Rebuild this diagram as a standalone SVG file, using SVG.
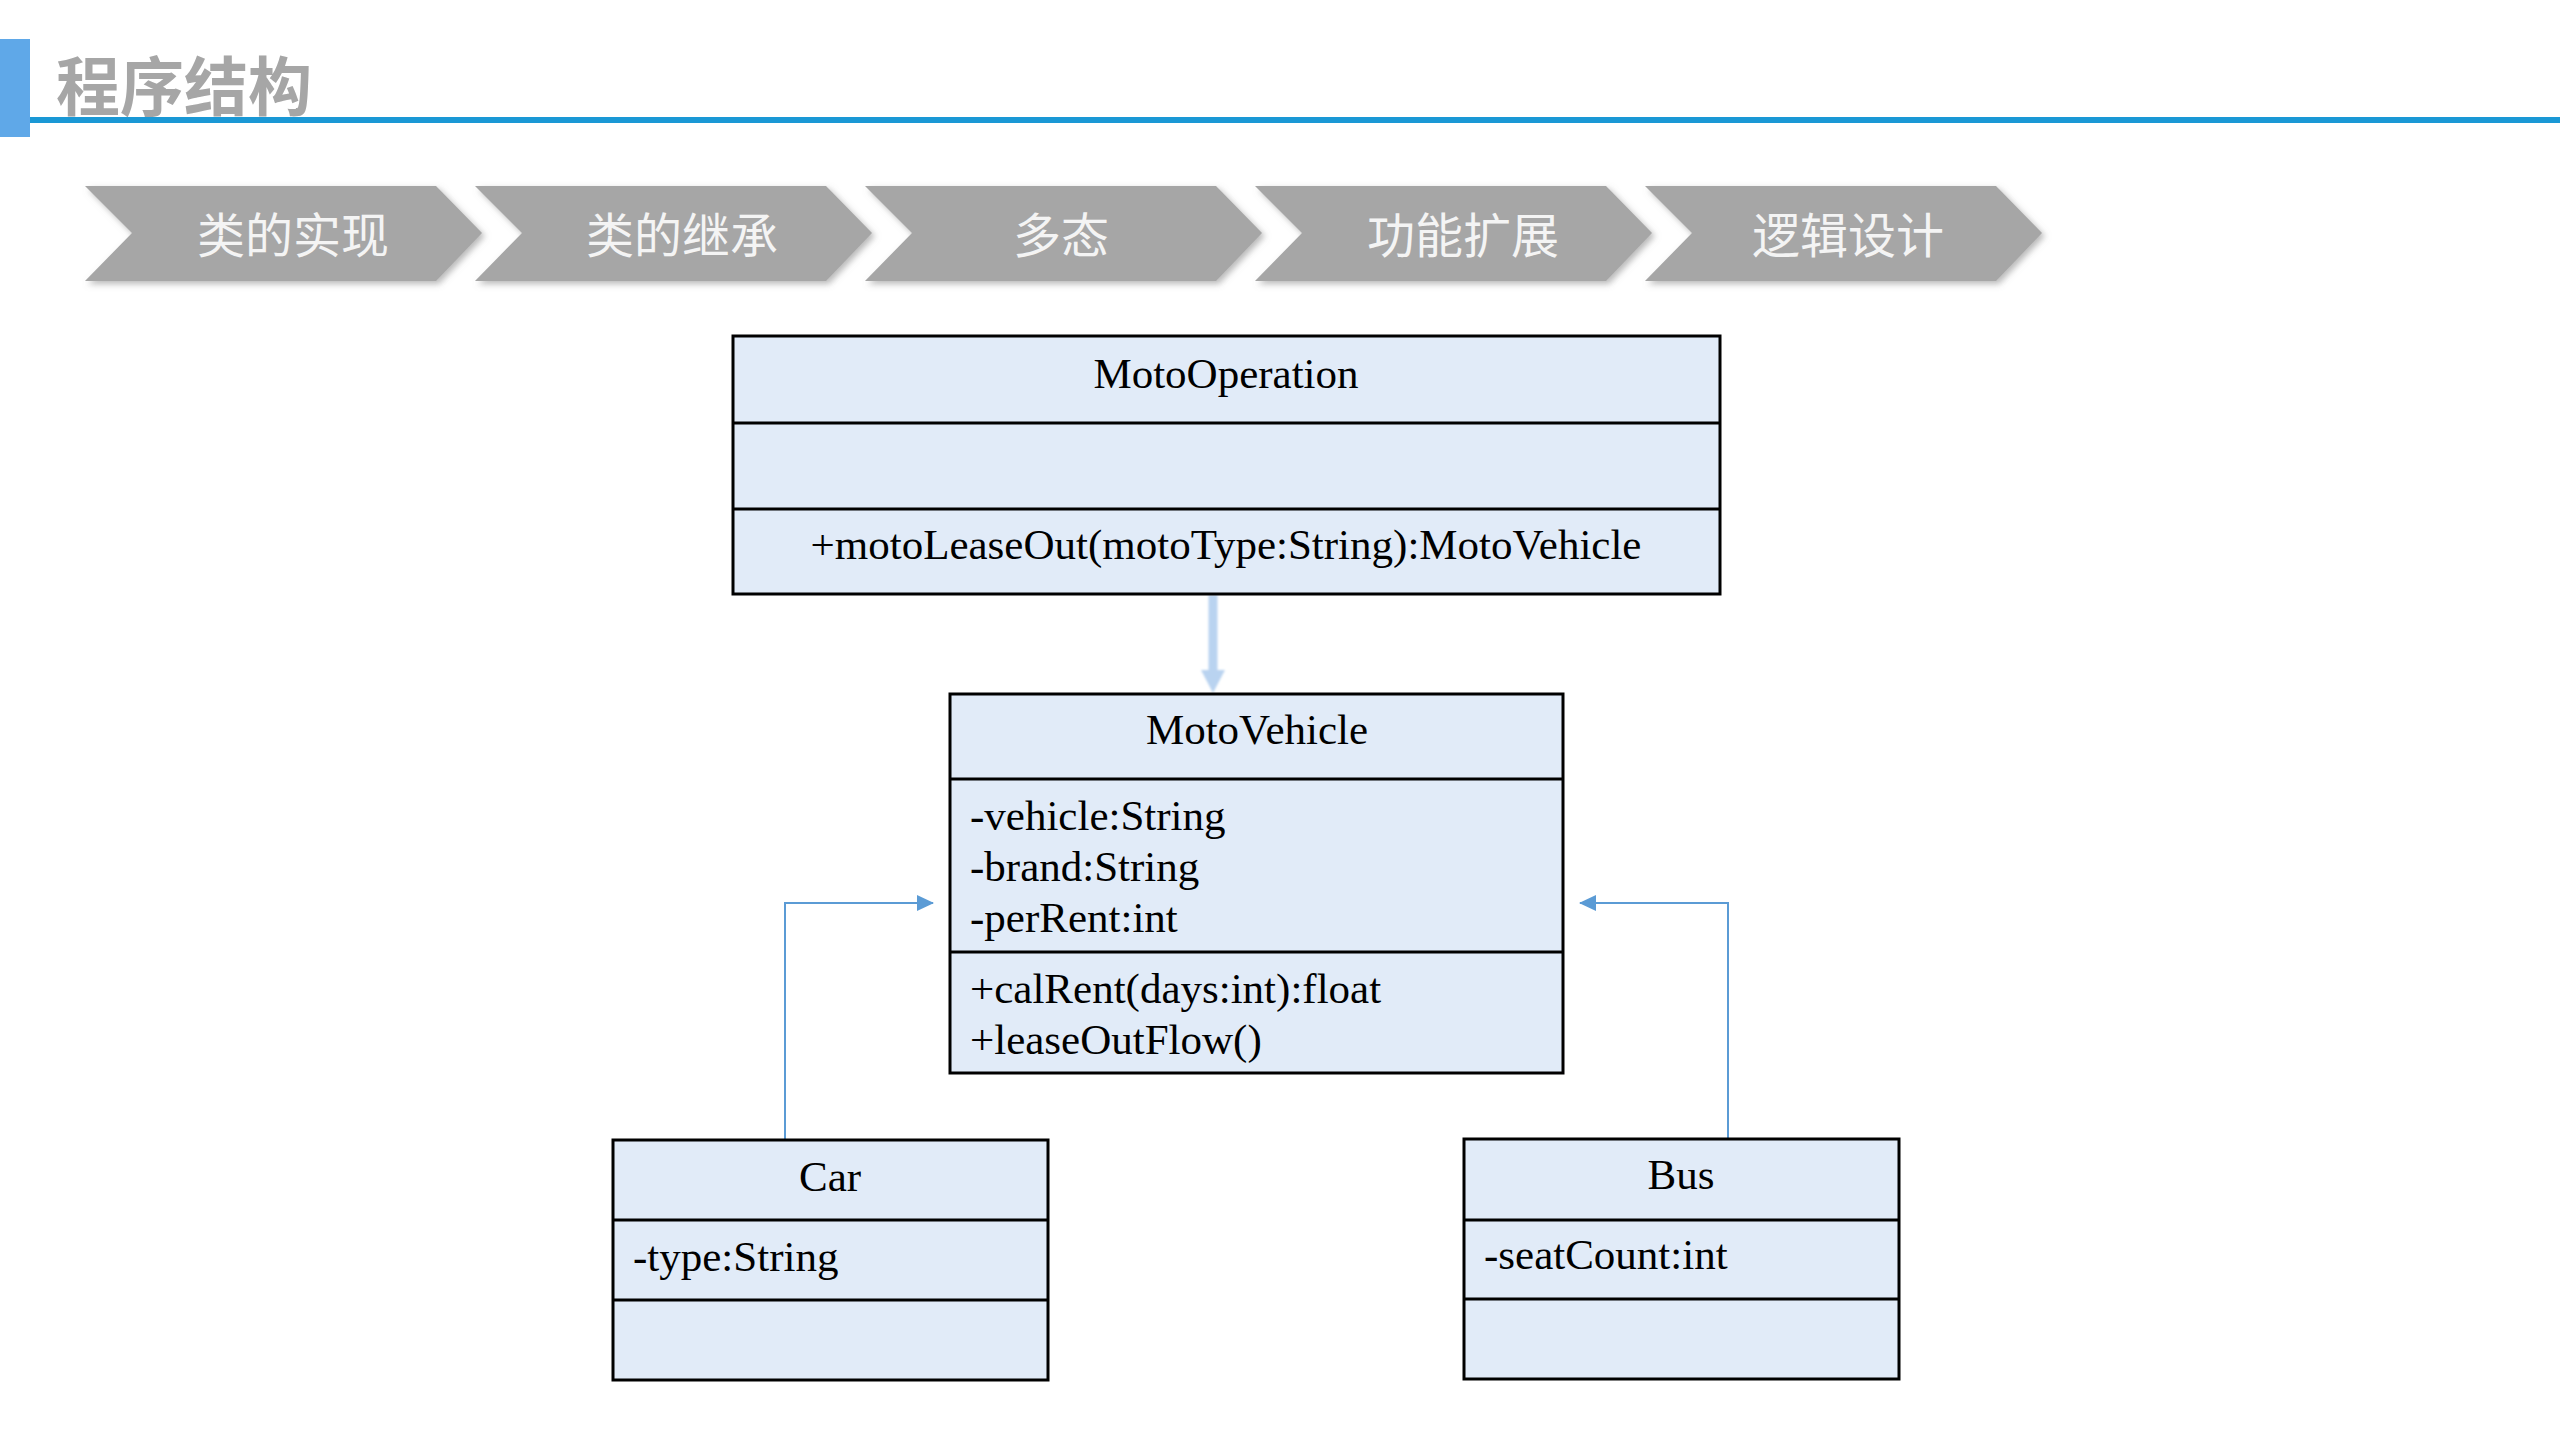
<svg xmlns="http://www.w3.org/2000/svg" width="2560" height="1440" viewBox="0 0 2560 1440">
<defs>
<filter id="sh" x="-10%" y="-20%" width="130%" height="150%">
<feDropShadow dx="3" dy="3" stdDeviation="3" flood-color="#808080" flood-opacity="0.55"/>
</filter>
<filter id="glow" x="-50%" y="-10%" width="200%" height="120%">
<feGaussianBlur stdDeviation="0.8"/>
</filter>
<marker id="ah" markerWidth="17" markerHeight="16" refX="16" refY="8" orient="auto" markerUnits="userSpaceOnUse">
<path d="M0,0 L17,8 L0,16 Z" fill="#5b9bd5"/>
</marker>
</defs>
<style>
.chev{fill:#a6a6a6;filter:url(#sh)}
.ct{font-family:"Noto Sans CJK SC","Noto Sans",sans-serif;font-size:48px;fill:#f4f4f4;text-anchor:middle}
.box{fill:#e1ebf8;stroke:#000;stroke-width:3}
.dv{stroke:#000;stroke-width:3}
.t{font-family:"Liberation Serif","Times New Roman",serif;font-size:43px;fill:#000}
.c{text-anchor:middle}
.conn{fill:none;stroke:#5b9bd5;stroke-width:2}
</style>
<rect width="2560" height="1440" fill="#fff"/>
<g id="header">
<rect x="0" y="39" width="30" height="98" fill="#5fa8e8"/>
<rect x="30" y="117" width="2530" height="6" fill="#1a98d5"/>
<text x="56" y="110" font-family="'Noto Sans CJK SC',sans-serif" font-size="64" font-weight="bold" fill="#a6a6a6">程序结构</text>
</g>
<g id="steps">
<g id="step1"><polygon class="chev" points="85,186 436,186 482,233 436,281 85,281 132,233"/><text class="ct" x="293" y="253">类的实现</text></g>
<g id="step2"><polygon class="chev" points="475,186 826,186 872,233 826,281 475,281 522,233"/><text class="ct" x="682" y="253">类的继承</text></g>
<g id="step3"><polygon class="chev" points="865,186 1216,186 1262,233 1216,281 865,281 912,233"/><text class="ct" x="1061" y="253">多态</text></g>
<g id="step4"><polygon class="chev" points="1255,186 1606,186 1652,233 1606,281 1255,281 1302,233"/><text class="ct" x="1463" y="253">功能扩展</text></g>
<g id="step5"><polygon class="chev" points="1645,186 1996,186 2042,233 1996,281 1645,281 1692,233"/><text class="ct" x="1848" y="253">逻辑设计</text></g>
</g>
<g id="connectors">
<g filter="url(#glow)">
<line x1="1213" y1="595" x2="1213" y2="672" stroke="#b9d3f0" stroke-width="9"/>
<polygon points="1201,670 1225,670 1213,693" fill="#b9d3f0"/>
</g>
<path class="conn" d="M785,1140 V903 H933" marker-end="url(#ah)"/>
<path class="conn" d="M1728,1139 V903 H1580" marker-end="url(#ah)"/>
</g>
<g id="MotoOperation">
<rect class="box" x="733" y="336" width="987" height="258"/>
<line class="dv" x1="733" y1="423" x2="1720" y2="423"/>
<line class="dv" x1="733" y1="509" x2="1720" y2="509"/>
<text class="t c" x="1226" y="388">MotoOperation</text>
<text class="t c" x="1226" y="559">+motoLeaseOut(motoType:String):MotoVehicle</text>
</g>
<g id="MotoVehicle">
<rect class="box" x="950" y="694" width="613" height="379"/>
<line class="dv" x1="950" y1="779" x2="1563" y2="779"/>
<line class="dv" x1="950" y1="952" x2="1563" y2="952"/>
<text class="t c" x="1257" y="744">MotoVehicle</text>
<text class="t" x="970" y="830">-vehicle:String</text>
<text class="t" x="970" y="881">-brand:String</text>
<text class="t" x="970" y="932">-perRent:int</text>
<text class="t" x="970" y="1003">+calRent(days:int):float</text>
<text class="t" x="970" y="1054">+leaseOutFlow()</text>
</g>
<g id="Car">
<rect class="box" x="613" y="1140" width="435" height="240"/>
<line class="dv" x1="613" y1="1220" x2="1048" y2="1220"/>
<line class="dv" x1="613" y1="1300" x2="1048" y2="1300"/>
<text class="t c" x="830" y="1191">Car</text>
<text class="t" x="633" y="1271">-type:String</text>
</g>
<g id="Bus">
<rect class="box" x="1464" y="1139" width="435" height="240"/>
<line class="dv" x1="1464" y1="1220" x2="1899" y2="1220"/>
<line class="dv" x1="1464" y1="1299" x2="1899" y2="1299"/>
<text class="t c" x="1681" y="1189">Bus</text>
<text class="t" x="1484" y="1269">-seatCount:int</text>
</g>
</svg>
